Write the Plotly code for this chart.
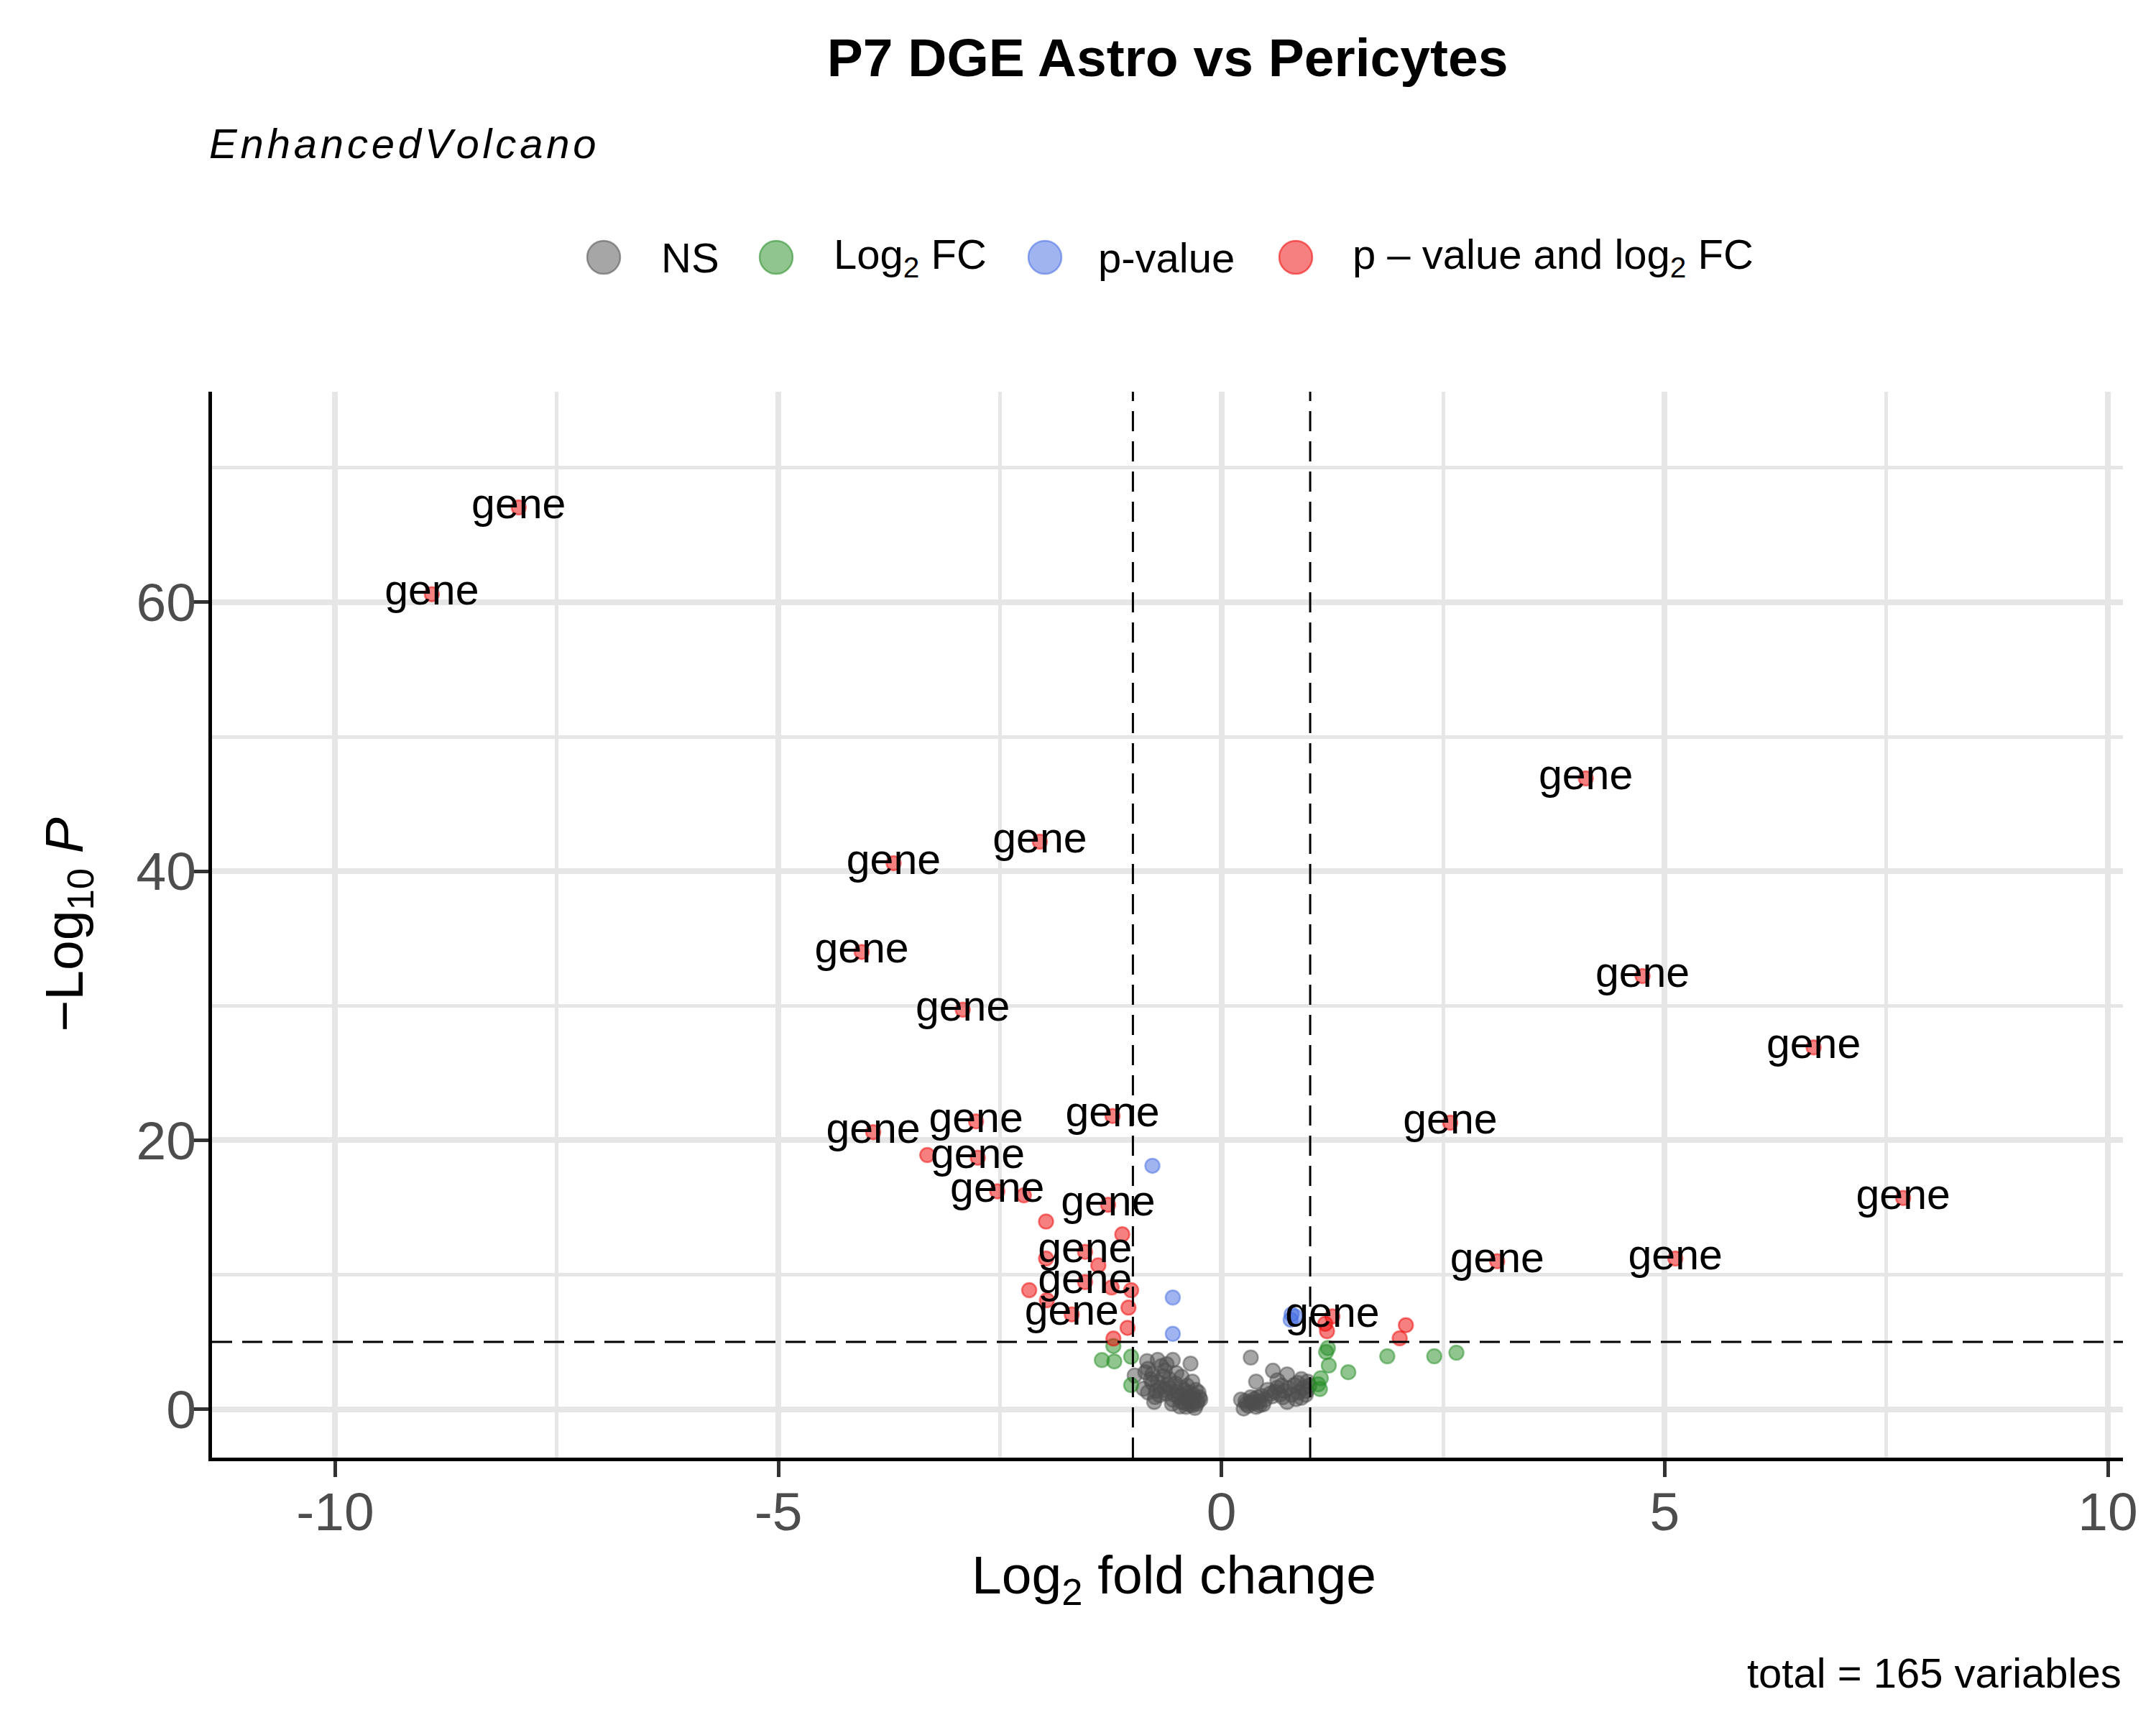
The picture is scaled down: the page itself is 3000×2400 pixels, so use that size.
"""
Volcano plot: P7 DGE Astro vs Pericytes (EnhancedVolcano style)
"""

import plotly.graph_objects as go

# --- data (log2 fold change, -log10 p) ---------------------------------
ns_x = [-0.84, -0.72, -0.55, -0.35, -0.98, -0.83, -0.68, -0.64, -0.80, -0.72,
        -0.59, -0.45, -0.33, -0.83, -0.75, -0.76, -0.64, -0.53, -0.45, -0.40,
        -0.32, -0.26, -0.24, -0.30, -0.40, -0.61, -0.69, -0.88, -0.55, -0.45,
        -0.33, -0.25, -0.29, -0.37, -0.78, -0.74, -0.66, -0.62, -0.58, -0.50,
        -0.48, -0.42, -0.38, -0.35, -0.31, -0.28, -0.36, -0.44, -0.52, -0.56,
        -0.70, -0.86, -0.78, -0.62, -0.51, -0.27, -0.33, -0.41, -0.47, -0.39,
        0.33, 0.39, 0.58, 0.74, 0.90, 0.97, 0.22, 0.25, 0.33, 0.41,
        0.47, 0.39, 0.52, 0.63, 0.69, 0.79, 0.87, 0.93, 0.95, 0.82,
        0.63, 0.49, 0.33, 0.74, 0.28, 0.30, 0.36, 0.42, 0.27, 0.45,
        0.55, 0.60, 0.66, 0.71, 0.76, 0.84, 0.90, 0.96, 0.99, 0.57,
        0.37, 0.43, 0.68, 0.86]
ns_y = [3.57, 3.66, 3.66, 3.39, 2.50, 3.00, 3.20, 2.86, 2.23, 2.05,
        2.23, 2.41, 2.05, 1.25, 0.90, 0.54, 1.43, 1.07, 1.60, 0.90,
        1.07, 1.25, 0.71, 0.10, 0.18, 1.79, 1.60, 1.52, 0.71, 0.54,
        0.54, 0.89, 1.43, 1.25, 1.95, 1.35, 2.45, 1.15, 1.55, 1.30,
        0.85, 1.40, 0.65, 0.95, 0.75, 0.40, 0.35, 1.05, 1.90, 0.40,
        1.05, 2.75, 2.60, 3.35, 2.68, 0.60, 0.30, 0.45, 0.20, 1.75,
        3.84, 2.05, 2.86, 2.59, 2.23, 2.05, 0.71, 0.05, 0.54, 0.89,
        0.36, 0.18, 1.43, 1.60, 0.89, 1.07, 1.25, 1.60, 1.07, 1.79,
        2.14, 0.71, 0.89, 0.54, 0.40, 0.25, 0.45, 0.55, 0.60, 1.00,
        1.15, 1.30, 1.10, 1.35, 1.55, 0.75, 0.85, 1.35, 1.75, 0.95,
        0.75, 0.30, 1.75, 1.95]

fc_x = [-1.22, -1.35, -1.21, -1.02, -1.02, 1.20, 1.18, 1.21, 1.12, 1.09,
        1.11, 1.43, 1.87, 2.40, 2.65]
fc_y = [4.70, 3.65, 3.55, 3.90, 1.79, 4.55, 4.25, 3.25, 2.30, 1.85,
        1.50, 2.75, 3.93, 3.93, 4.20]

p_x = [-0.78, -0.55, -0.55, 0.79, 0.83, 0.78]
p_y = [18.1, 8.3, 5.6, 7.05, 6.9, 6.65]

both_x = [-7.93, -8.91, 4.11, -2.05, -3.70, -4.06, 4.75, -2.92, 6.68, 2.58,
          -1.23, -2.77, -3.93, -3.32, -2.75, 7.69, -2.53, -2.23, -1.28, -1.98,
          -1.12, 3.11, 5.12, -1.54, -1.98, -1.39, -2.17, -1.54, -1.97, -1.24,
          -1.02, -1.05, -1.69, -1.06, -1.22, 1.25, 1.19, 2.08, 2.01, 1.17]
both_y = [67.05, 60.6, 46.9, 42.2, 40.6, 34.0, 32.2, 29.7, 26.9, 21.3,
          21.8, 21.4, 20.6, 18.9, 18.7, 15.7, 16.2, 15.9, 15.2, 13.95,
          13.0, 11.0, 11.2, 11.7, 11.2, 10.7, 8.85, 9.45, 8.1, 9.05,
          8.85, 7.55, 7.05, 6.05, 5.25, 6.9, 5.8, 6.25, 5.27, 6.35]
both_labelled = [1, 1, 1, 1, 1, 1, 1, 1, 1, 1,
                 1, 1, 1, 0, 1, 1, 1, 0, 1, 0,
                 0, 1, 1, 1, 0, 0, 0, 1, 0, 0,
                 0, 0, 1, 0, 0, 1, 0, 0, 0, 0]
gene_label = "gene"

x_ticks = [-10, -5, 0, 5, 10]
x_tick_text = ["-10", "-5", "0", "5", "10"]
y_ticks = [0, 20, 40, 60]
y_tick_text = ["0", "20", "40", "60"]

fc_cutoff = 1.0
p_cutoff = 5.0   # -log10(1e-5)
n_total = len(ns_x) + len(fc_x) + len(p_x) + len(both_x)

# --- style ---------------------------------------------------------------
FONT = "Liberation Sans, Arial, Helvetica, sans-serif"
groups = [
    ("NS", ns_x, ns_y, "77,77,77"),
    ("Log<sub>2</sub> FC", fc_x, fc_y, "34,139,34"),
    ("p-value", p_x, p_y, "65,105,225"),
    ("p \u2013 value and log<sub>2</sub> FC", both_x, both_y, "238,0,0"),
]

W, H = 3000, 2400
L, R, T, B = 287, 54, 537, 380
pw, ph = W - L - R, H - T - B

fig = go.Figure()

for name, xs, ys, rgb in groups:
    fig.add_trace(go.Scatter(
        x=xs, y=ys, mode="markers", name=name, showlegend=False,
        marker=dict(size=20, color=f"rgba({rgb},0.5)",
                    line=dict(color=f"rgba({rgb},0.5)", width=2.5)),
        hoverinfo="x+y",
    ))

# gene labels on top
lab_x = [x for x, f in zip(both_x, both_labelled) if f]
lab_y = [y for y, f in zip(both_y, both_labelled) if f]
fig.add_trace(go.Scatter(
    x=lab_x, y=lab_y, mode="text", text=[gene_label] * len(lab_x),
    textposition="middle center", showlegend=False, hoverinfo="skip",
    textfont=dict(family=FONT, size=59, color="black"),
))

# cutoff lines
dash = dict(color="black", width=3, dash="28px,14px")
for v in (-fc_cutoff, fc_cutoff):
    fig.add_vline(x=v, line=dash, layer="above")
fig.add_hline(y=p_cutoff, line=dash, layer="above")

# manual legend (big round keys like ggplot)
leg_y = 1 + (T - 350) / ph
key_px = [832, 1072, 1446, 1795]
txt_px = [910, 1150, 1518, 1872]
for (name, _, _, rgb), kx, tx in zip(groups, key_px, txt_px):
    fig.add_shape(
        type="circle", xref="paper", yref="paper",
        xsizemode="pixel", ysizemode="pixel",
        xanchor=(kx - L) / pw, yanchor=leg_y,
        x0=-23, x1=23, y0=-23, y1=23,
        fillcolor=f"rgba({rgb},0.5)",
        line=dict(color=f"rgba({rgb},0.55)", width=2.5),
    )
    fig.add_annotation(
        x=(tx - L) / pw, y=leg_y, xref="paper", yref="paper",
        xanchor="left", yanchor="middle", text=name, showarrow=False,
        font=dict(family=FONT, size=58, color="black"),
    )

# subtitle (plotmath-style spaced italics), axis titles, caption
sub = "\u200a".join("EnhancedVolcano")
fig.add_annotation(
    x=-6 / pw, y=1 + (T - 191) / ph, xref="paper", yref="paper",
    xanchor="left", yanchor="middle", showarrow=False,
    text=f"<i>{sub}</i>",
    font=dict(family=FONT, size=58, color="black"),
)
fig.add_annotation(
    x=(1626 - L) / pw, y=-(2188 - (T + ph)) / ph, xref="paper", yref="paper",
    xanchor="center", yanchor="middle", showarrow=False,
    text="Log<sub>2</sub> fold change",
    font=dict(family=FONT, size=75, color="black"),
)
fig.add_annotation(
    x=-(L - 86) / pw, y=0.5, xref="paper", yref="paper",
    xanchor="center", yanchor="middle", showarrow=False, textangle=-90,
    text="\u2212Log<sub>10</sub> <i>P</i>",
    font=dict(family=FONT, size=75, color="black"),
)
fig.add_annotation(
    x=1, y=-(2319 - (T + ph)) / ph, xref="paper", yref="paper",
    xanchor="right", yanchor="middle", showarrow=False,
    text=f"total = {n_total} variables",
    font=dict(family=FONT, size=58, color="black"),
)

grid = "#e6e6e6"
x_lo = min(both_x) - 1.5
x_hi = max(both_x) + 1.5
y_hi = max(both_y) + 5
fig.update_xaxes(
    range=[x_lo - 0.05 * (x_hi - x_lo), x_hi + 0.05 * (x_hi - x_lo)],
    tickvals=x_ticks, ticktext=x_tick_text,
    showgrid=True, gridcolor=grid, gridwidth=8,
    minor=dict(dtick=2.5, tick0=0, showgrid=True, gridcolor=grid, gridwidth=4.5),
    zeroline=False, showline=True, linecolor="black", linewidth=5,
    ticks="outside", ticklen=22, tickwidth=5, tickcolor="#333333",
    tickfont=dict(family=FONT, size=75, color="#4d4d4d"),
    ticklabelstandoff=-16,
)
fig.update_yaxes(
    range=[-0.05 * y_hi, y_hi * 1.05],
    tickvals=y_ticks, ticktext=y_tick_text,
    showgrid=True, gridcolor=grid, gridwidth=8,
    minor=dict(dtick=10, tick0=0, showgrid=True, gridcolor=grid, gridwidth=4.5),
    zeroline=False, showline=True, linecolor="black", linewidth=5,
    ticks="outside", ticklen=24, tickwidth=5, tickcolor="#333333",
    tickfont=dict(family=FONT, size=75, color="#4d4d4d"),
    ticklabelstandoff=-22,
)

fig.update_layout(
    width=W, height=H,
    margin=dict(l=L, r=R, t=T, b=B),
    paper_bgcolor="white", plot_bgcolor="white",
    title=dict(text="<b>P7 DGE Astro vs Pericytes</b>", x=0.5, xref="paper",
               y=1 - 72 / H, yref="container", xanchor="center", yanchor="middle",
               font=dict(family=FONT, size=75, color="black")),
    font=dict(family=FONT),
    showlegend=False,
)

fig.write_html("out.html")
